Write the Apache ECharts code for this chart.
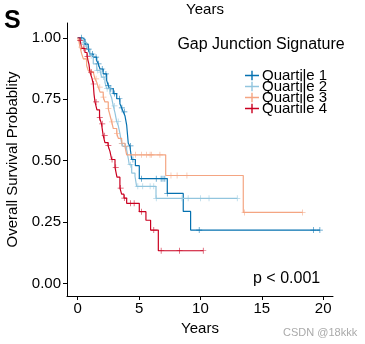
<!DOCTYPE html>
<html>
<head>
<meta charset="utf-8">
<script src="https://cdn.jsdelivr.net/npm/echarts@6/dist/echarts.min.js"></script>
<style>
    html, body {
        margin: 0;
        padding: 0;
        background: #fff;
    }
    #chart {
        width: 365px;
        height: 344px;
    }
</style>
</head>
<body>
<div id="chart"></div>
<script>
// KM steps: [drop time (years), survival after drop]
var q1Steps = [[0, 1], [0.33, 0.994], [0.59, 0.974], [0.86, 0.954], [1.0, 0.934], [1.27, 0.921], [1.55, 0.907],
    [1.68, 0.894], [1.82, 0.873], [2.08, 0.853], [2.36, 0.827], [2.49, 0.806], [2.63, 0.793], [2.9, 0.773],
    [3.18, 0.752], [3.44, 0.732], [3.58, 0.715], [3.71, 0.699], [3.85, 0.683], [3.99, 0.645], [4.12, 0.571],
    [4.25, 0.56], [4.4, 0.505], [4.7, 0.48], [5.02, 0.427], [7.3, 0.367], [8.6, 0.294], [9.2, 0.218], [19.73, 0.218]];
var q2Steps = [[0, 1], [0.19, 0.994], [0.46, 0.981], [0.73, 0.954], [1.0, 0.927], [1.27, 0.894], [1.55, 0.867],
    [1.82, 0.86], [1.95, 0.84], [2.22, 0.819], [2.36, 0.793], [2.63, 0.773], [2.77, 0.755], [2.9, 0.723],
    [3.04, 0.695], [3.18, 0.659], [3.31, 0.642], [3.44, 0.611], [3.58, 0.571], [3.71, 0.558], [3.99, 0.544],
    [4.12, 0.51], [4.2, 0.484], [4.4, 0.45], [4.67, 0.437], [4.8, 0.396], [6.38, 0.347], [13.0, 0.347]];
var q3Steps = [[0, 1], [0.1, 0.985], [0.19, 0.962], [0.33, 0.934], [0.46, 0.914], [0.73, 0.887], [0.86, 0.867],
    [1.0, 0.86], [1.27, 0.853], [1.41, 0.833], [1.55, 0.819], [1.68, 0.799], [1.82, 0.779], [2.08, 0.759],
    [2.22, 0.739], [2.49, 0.712], [2.63, 0.685], [2.77, 0.658], [2.9, 0.631], [3.18, 0.611], [3.31, 0.591],
    [3.58, 0.571], [3.85, 0.558], [3.99, 0.524], [7.17, 0.44], [13.49, 0.29], [18.32, 0.29]];
var q4Steps = [[0, 1], [0.19, 0.989], [0.35, 0.957], [0.59, 0.94], [0.76, 0.924], [0.92, 0.892], [1.0, 0.86],
    [1.16, 0.836], [1.27, 0.812], [1.33, 0.771], [1.41, 0.739], [1.57, 0.707], [1.78, 0.675], [1.94, 0.65],
    [2.08, 0.602], [2.22, 0.574], [2.47, 0.562], [2.63, 0.538], [2.77, 0.505], [3.04, 0.473], [3.2, 0.433],
    [3.44, 0.389], [3.58, 0.364], [3.77, 0.348], [3.99, 0.327], [5.02, 0.293], [5.56, 0.258], [5.94, 0.218],
    [6.57, 0.134], [10.23, 0.134]];

// censored times
var q1Cens = [0.3, 0.6, 0.9, 1.2, 1.5, 1.7, 2.0, 2.3, 2.5, 2.7, 3.0, 3.4, 3.6, 3.8, 4.3, 4.5, 5.2, 6.4, 6.8, 6.95, 7.1, 7.3, 9.9, 19.2, 19.73];
var q2Cens = [0.5, 1.1, 1.6, 1.9, 2.1, 2.4, 2.6, 3.0, 3.3, 3.6, 3.9, 4.3, 4.9, 5.3, 5.9, 6.2, 6.4, 8.5, 9.0, 10.0, 10.7, 13.0];
var q3Cens = [0.3, 0.7, 1.1, 1.5, 1.8, 2.1, 2.5, 2.8, 3.2, 3.6, 3.9, 4.7, 5.2, 5.6, 5.9, 6.0, 6.7, 7.6, 8.1, 8.9, 13.6, 18.32];
var q4Cens = [0.2, 0.5, 0.8, 1.1, 1.3, 1.5, 1.8, 2.0, 2.2, 2.5, 2.8, 3.1, 3.5, 3.8, 4.3, 4.6, 5.2, 6.2, 6.8, 8.3, 10.23];

var groupNames = ['Quartile 1', 'Quartile 2', 'Quartile 3', 'Quartile 4'];
var xTicks = [0, 5, 10, 15, 20];
var yTicks = [0, 0.25, 0.5, 0.75, 1];

var colors = ['#0571B0', '#92C5DE', '#F4A582', '#CA0020'];
var plus = 'path://M0,4.4h10v1.2h-10z M4.4,0h1.2v10h-1.2z';
var legendIcon = 'path://M0,4.4h12v1.2h-12z M5.4,1h1.2v8h-1.2z';

// survival value on the step curve at time t
function survAt(steps, t) {
    var s = steps[0][1];
    for (var i = 0; i < steps.length; i++) {
        if (steps[i][0] <= t + 1e-9) s = steps[i][1];
    }
    return s;
}

var allSteps = [q1Steps, q2Steps, q3Steps, q4Steps];
var allCens = [q1Cens, q2Cens, q3Cens, q4Cens];

var series = [];
for (var g = 0; g < 4; g++) {
    series.push({
        name: groupNames[g],
        type: 'line',
        step: 'end',
        showSymbol: false,
        color: colors[g],
        lineStyle: { width: 1.2, color: colors[g] },
        data: allSteps[g],
        z: 2
    });
    series.push({
        name: groupNames[g],
        type: 'scatter',
        symbol: plus,
        symbolSize: 6,
        color: colors[g],
        itemStyle: { color: colors[g], opacity: 0.75 },
        data: allCens[g].map(function(t) { return [t, survAt(allSteps[g], t)]; }),
        silent: true,
        z: 3
    });
}

var myChart = echarts.init(document.getElementById('chart'));
var font = 'Liberation Sans, Arial, Helvetica, sans-serif';
var option = {
    animation: false,
    textStyle: { fontFamily: font },
    grid: {
        left: 67,
        right: 32,
        top: 23,
        bottom: 48,
        outerBoundsMode: 'none',
        containLabel: false
    },
    title: [{
        text: 'Years',
        left: 200,
        top: -3,
        textAlign: 'center',
        textStyle: { fontSize: 15, fontWeight: 'normal', color: '#000', fontFamily: font }
    }, {
        text: 'S',
        left: -1,
        top: 4,
        textStyle: { fontSize: 25, fontWeight: 'bold', color: '#000', fontFamily: font }
    }, {
        text: 'Gap Junction Signature',
        left: 256,
        top: 32,
        textAlign: 'center',
        textStyle: { fontSize: 16, fontWeight: 'normal', color: '#000', fontFamily: font }
    }, {
        text: 'p < 0.001',
        left: 248,
        top: 266,
        textStyle: { fontSize: 16, fontWeight: 'normal', color: '#000', fontFamily: font }
    }, {
        text: 'CSDN @18kkk',
        left: 278,
        top: 322,
        textStyle: { fontSize: 11, fontWeight: 'normal', color: '#aaa', fontFamily: font }
    }],
    legend: {
        data: groupNames.map(function(n) { return { name: n, icon: legendIcon }; }),
        orient: 'vertical',
        left: 240,
        top: 63,
        itemWidth: 14,
        itemHeight: 10,
        itemGap: -4,
        textStyle: { fontSize: 15, color: '#000', padding: [0, 0, 0, -2] }
    },
    xAxis: {
        type: 'value',
        min: -0.87,
        max: 20.8,
        name: 'Years',
        nameLocation: 'middle',
        nameGap: 22,
        nameTextStyle: { fontSize: 15, color: '#000' },
        axisLine: { onZero: false, lineStyle: { color: '#000', width: 1 } },
        axisTick: { show: true, length: 4, customValues: xTicks, lineStyle: { color: '#000' } },
        axisLabel: { customValues: xTicks, fontSize: 15, color: '#000', margin: 5 },
        splitLine: { show: false }
    },
    yAxis: {
        type: 'value',
        min: -0.05,
        max: 1.06,
        name: 'Overall Survival Probablity',
        nameLocation: 'middle',
        nameGap: 47,
        nameRotate: 90,
        nameTextStyle: { fontSize: 15, color: '#000' },
        axisLine: { show: true, onZero: false, lineStyle: { color: '#000', width: 1 } },
        axisTick: { show: true, length: 4, customValues: yTicks, lineStyle: { color: '#000' } },
        axisLabel: {
            customValues: yTicks,
            fontSize: 15,
            color: '#000',
            margin: 6,
            formatter: function(v) { return v.toFixed(2); }
        },
        splitLine: { show: false }
    },
    series: series
};
myChart.setOption(option);
</script>
</body>
</html>
